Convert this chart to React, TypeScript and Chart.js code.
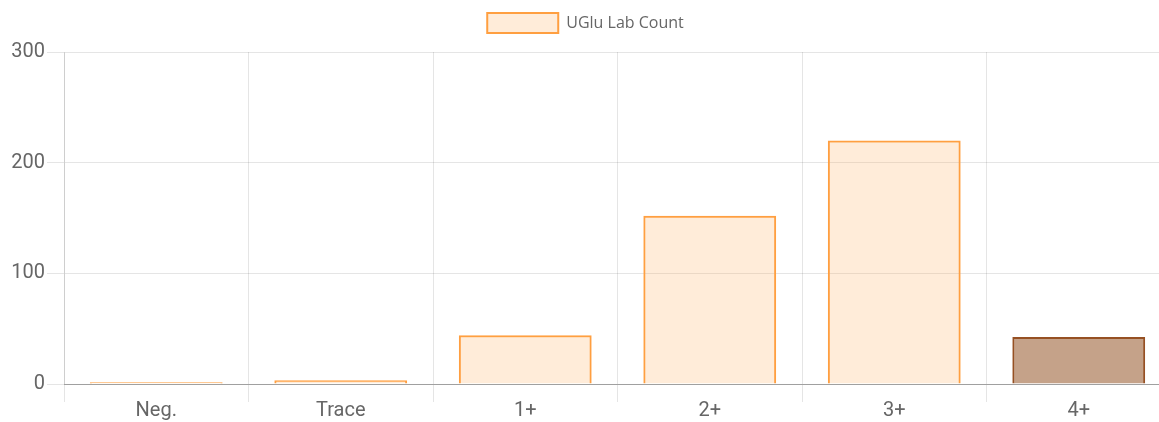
import React, { useEffect, useRef } from "react";
import { Chart, registerables } from "chart.js";

Chart.register(...registerables);

const categories = ["Neg.", "Trace", "1+", "2+", "3+", "4+"];
const counts = [1.5, 3.5, 44, 152, 220, 42.5];
const seriesLabel = "UGlu Lab Count";
const yTickStep = 100;
const yMax = 300;
const fillColors = [
  "rgba(255,159,64,0.2)",
  "rgba(255,159,64,0.2)",
  "rgba(255,159,64,0.2)",
  "rgba(255,159,64,0.2)",
  "rgba(255,159,64,0.2)",
  "rgba(139,69,19,0.5)",
];
const borderColors = [
  "rgba(255,159,64,1)",
  "rgba(255,159,64,1)",
  "rgba(255,159,64,1)",
  "rgba(255,159,64,1)",
  "rgba(255,159,64,1)",
  "rgba(150,80,35,1)",
];

const legendMargin = {
  id: "legendMargin",
  beforeInit(chart: any) {
    const lg = chart.legend;
    if (!lg) return;
    const orig = lg.fit;
    lg.fit = function () {
      orig.call(this);
      this.height += 9;
    };
  },
};

export default function App() {
  const ref = useRef<HTMLCanvasElement>(null);
  useEffect(() => {
    if (!ref.current) return;
    const chart = new Chart(ref.current, {
      type: "bar",
      data: {
        labels: categories,
        datasets: [
          {
            label: seriesLabel,
            data: counts,
            backgroundColor: fillColors,
            borderColor: borderColors,
            borderWidth: 2,
          },
        ],
      },
      plugins: [legendMargin],
      options: {
        responsive: false,
        animation: false,
        layout: { padding: { left: 0, top: 3, bottom: 2, right: 0 } },
        plugins: {
          legend: {
            display: true,
            labels: {
              boxWidth: 71,
              boxHeight: 20,
              padding: 10,
              color: "#666",
              font: { family: "'Open Sans', sans-serif", size: 16 },
            },
          },
          tooltip: { enabled: false },
        },
        scales: {
          x: {
            grid: {
              color: "rgba(0,0,0,0.1)",
              tickLength: 18,
              offset: true,
            },
            border: { color: "rgba(0,0,0,0.3)" },
            ticks: {
              color: "#666",
              padding: -3,
              font: { family: "Roboto, sans-serif", size: 20 },
            },
          },
          y: {
            min: 0,
            max: yMax,
            afterFit(scale: any) {
              scale.width = 64;
            },
            grid: { color: "rgba(0,0,0,0.1)", tickLength: 17 },
            border: { color: "rgba(0,0,0,0.1)" },
            ticks: {
              stepSize: yTickStep,
              color: "#666",
              padding: 2,
              font: { family: "Roboto, sans-serif", size: 20 },
            },
          },
        },
      },
    });
    return () => chart.destroy();
  }, []);
  return (
    <div
      style={{
        position: "absolute",
        left: 0,
        top: 0,
        width: 1159,
        height: 422,
        overflow: "hidden",
        background: "#fff",
      }}
    >
      <canvas ref={ref} width={1171} height={422} style={{ display: "block" }} />
    </div>
  );
}
